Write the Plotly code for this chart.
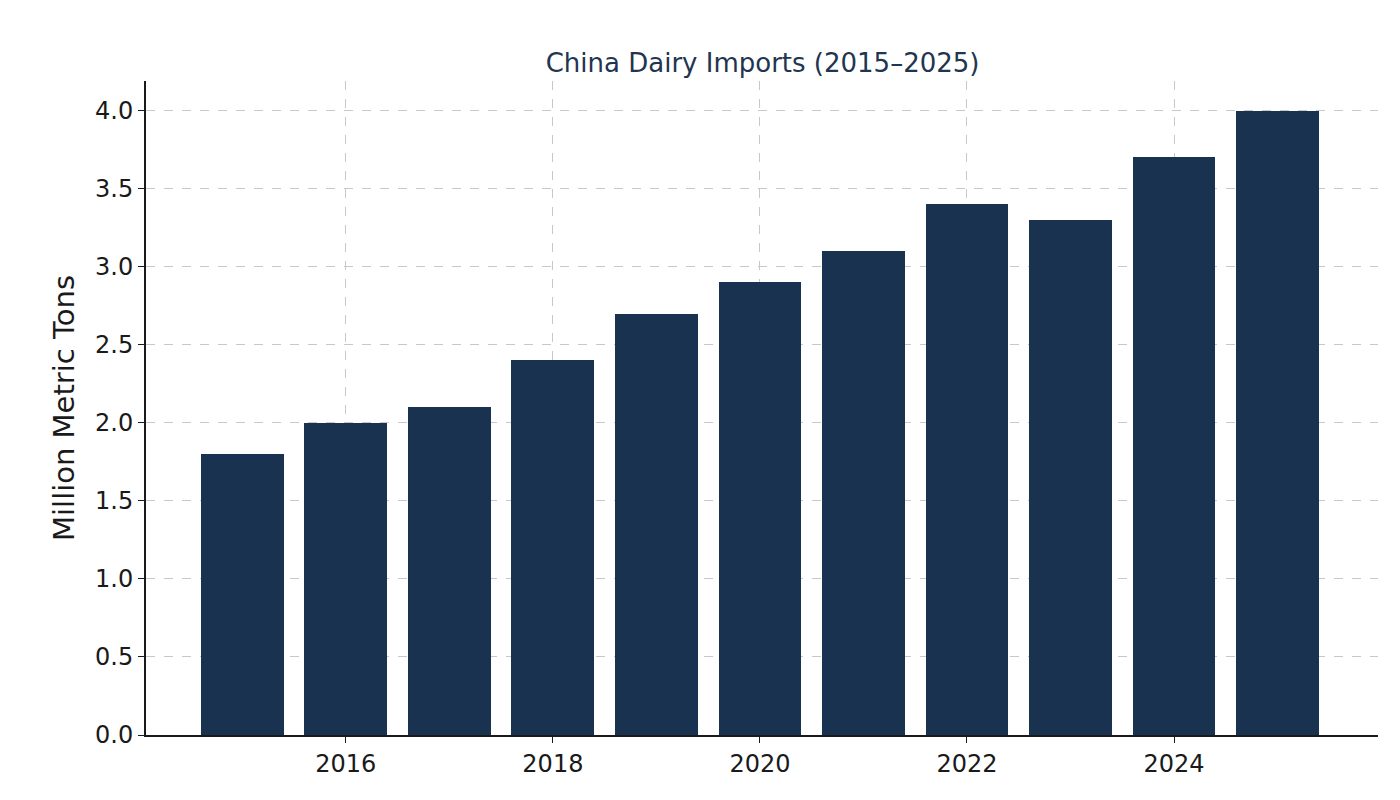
import plotly.graph_objects as go

years = [2015, 2016, 2017, 2018, 2019, 2020, 2021, 2022, 2023, 2024, 2025]
imports = [1.8, 2.0, 2.1, 2.4, 2.7, 2.9, 3.1, 3.4, 3.3, 3.7, 4.0]

BAR = '#19324f'
GRID = '#c8c8c8'

fig = go.Figure()
fig.add_trace(go.Bar(x=years, y=imports, width=0.8, marker=dict(color=BAR, line=dict(width=0))))

fig.update_layout(
    width=1400, height=800,
    paper_bgcolor='white', plot_bgcolor='white',
    font=dict(family='DejaVu Sans', size=24, color='#1a1a1a'),
    title=dict(text='China Dairy Imports (2015–2025)', x=0.539, xanchor='center', y=0.943,
               font=dict(size=26, color='#1f3550')),
    margin=dict(l=138, r=30, t=73, b=73),
    showlegend=False,
    bargap=0,
)
fig.update_xaxes(
    range=[2014.07, 2025.97], tickvals=[2016, 2018, 2020, 2022, 2024],
    showgrid=True, gridcolor=GRID, griddash='dash', gridwidth=1,
    showline=True, linecolor='#1a1a1a', linewidth=2,
    ticks='outside', ticklen=6, tickcolor='#1a1a1a', zeroline=False,
)
fig.update_yaxes(
    range=[0, 4.19], tickvals=[0, 0.5, 1, 1.5, 2, 2.5, 3, 3.5, 4],
    ticktext=['0.0', '0.5', '1.0', '1.5', '2.0', '2.5', '3.0', '3.5', '4.0'],
    title=dict(text='Million Metric Tons', standoff=12),
    showgrid=True, gridcolor=GRID, griddash='dash', gridwidth=1,
    showline=True, linecolor='#1a1a1a', linewidth=2,
    ticks='outside', ticklen=6, tickcolor='#1a1a1a', zeroline=False,
)

fig.write_html('out.html')
